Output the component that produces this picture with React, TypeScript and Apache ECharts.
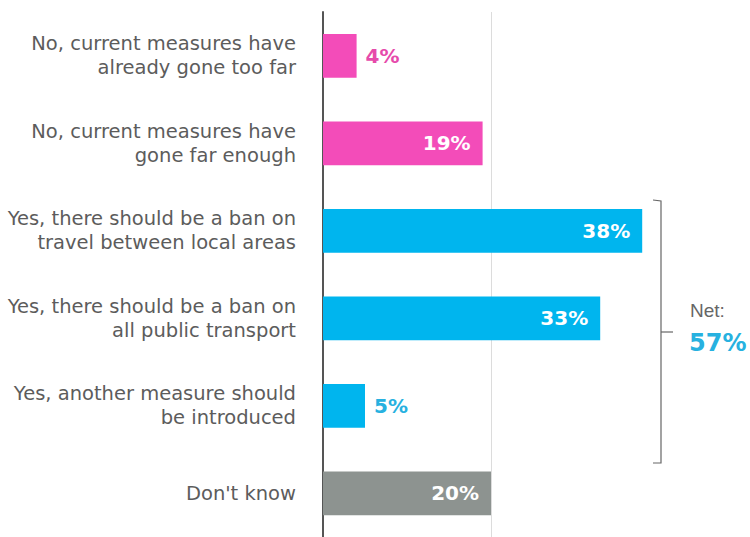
import React, { useEffect, useRef } from "react";
import * as echarts from "echarts";

const categories = [
  "No, current measures have\nalready gone too far",
  "No, current measures have\ngone far enough",
  "Yes, there should be a ban on\ntravel between local areas",
  "Yes, there should be a ban on\nall public transport",
  "Yes, another measure should\nbe introduced",
  "Don't know",
];
const values = [4, 19, 38, 33, 5, 20];
const groups = ["no", "no", "yes", "yes", "yes", "dk"];
const netLabel = "Net:";
const netValue = "57%";

const PINK = "#f34cb9";
const CYAN = "#00b5ee";
const GRAY = "#8d9390";
const colorFor: Record<string, string> = { no: PINK, yes: CYAN, dk: GRAY };
const labelColorFor: Record<string, string> = { no: "#e64aab", yes: "#27b1e0", dk: "#ffffff" };

export default function App() {
  const ref = useRef<HTMLDivElement>(null);
  useEffect(() => {
    if (!ref.current) return;
    const chart = echarts.init(ref.current, undefined, { renderer: "svg" });
    const data = values.map((v, i) => {
      const g = groups[i];
      const outside = v < 10;
      return {
        value: v,
        itemStyle: { color: colorFor[g] },
        label: {
          position: outside ? "right" : "insideRight",
          distance: outside ? 9 : 12,
          color: outside ? labelColorFor[g] : "#ffffff",
        },
      };
    });
    chart.setOption({
      animation: false,
      grid: { left: 323, top: 12, right: 7, bottom: -4, containLabel: false },
      xAxis: {
        type: "value",
        min: 0,
        max: 50,
        show: false,
        splitLine: { show: false },
      },
      yAxis: {
        type: "category",
        data: categories,
        inverse: true,
        axisTick: { show: false },
        axisLine: { show: true, lineStyle: { color: "#555555", width: 2 } },
        axisLabel: {
          fontFamily: "DejaVu Sans, sans-serif",
          fontSize: 19.5,
          lineHeight: 24,
          color: "#5c5c5c",
          margin: 27,
          align: "right",
        },
      },
      series: [
        {
          type: "bar",
          data,
          barWidth: "50%",
          z: 3,
          label: {
            show: true,
            formatter: "{c}%",
            fontFamily: "DejaVu Sans, sans-serif",
            fontWeight: "bold",
            fontSize: 20,
          },
          markLine: {
            silent: true,
            symbol: "none",
            label: { show: false },
            lineStyle: { color: "#dcdcdc", width: 1, type: "solid" },
            data: [{ xAxis: 20 }],
            z: 1,
          },
        },
      ],
      graphic: [
        {
          type: "polyline",
          shape: { points: [[653, 200], [661, 201], [661, 463], [653, 463]] },
          style: { stroke: "#666666", lineWidth: 1.2, fill: null },
        },
        {
          type: "line",
          shape: { x1: 661, y1: 332, x2: 673, y2: 332 },
          style: { stroke: "#666666", lineWidth: 1.2 },
        },
        {
          type: "text",
          x: 690,
          y: 310,
          style: {
            text: netLabel,
            fontFamily: "Liberation Sans, Arial, sans-serif",
            fontSize: 19,
            fill: "#666666",
            verticalAlign: "middle",
          },
        },
        {
          type: "text",
          x: 689,
          y: 343,
          style: {
            text: netValue,
            fontFamily: "DejaVu Sans, sans-serif",
            fontWeight: "bold",
            fontSize: 24,
            fill: "#27b1e0",
            verticalAlign: "middle",
          },
        },
      ],
    });
    return () => chart.dispose();
  }, []);
  return (
    <div
      ref={ref}
      style={{ position: "fixed", left: 0, top: 0, width: 750, height: 537, background: "#ffffff" }}
    />
  );
}
